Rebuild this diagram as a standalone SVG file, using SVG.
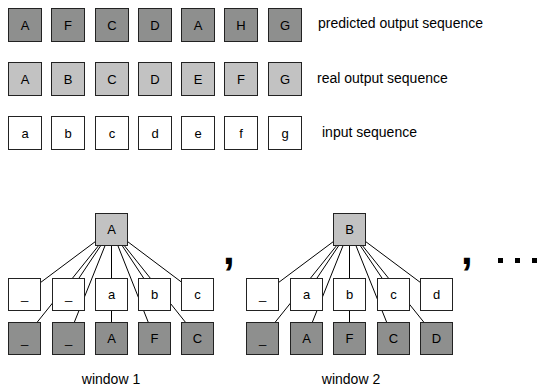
<svg xmlns="http://www.w3.org/2000/svg" width="539" height="386" viewBox="0 0 539 386">
<style>
rect.b{stroke:#222;stroke-width:1}
.pred{fill:#8e8f8e}
.real{fill:#c2c2c2}
.inp{fill:#fff}
text{font-family:"Liberation Sans",Arial,sans-serif;fill:#000}
.t{font-size:13px;text-anchor:middle}
.lab{font-size:14px}
.win{font-size:14px;text-anchor:middle}
.sep{font-size:42px;font-weight:bold}
.conn line{stroke:#000;stroke-width:1}
</style>
<rect width="539" height="386" fill="#fff"/>
<!-- row 1: predicted -->
<g id="pred-row">
<g id="p1"><rect class="b pred" x="8.5" y="8.5" width="33" height="33"/><text class="t" x="25" y="30">A</text></g>
<g id="p2"><rect class="b pred" x="51.5" y="8.5" width="33" height="33"/><text class="t" x="68" y="30">F</text></g>
<g id="p3"><rect class="b pred" x="95.5" y="8.5" width="33" height="33"/><text class="t" x="112" y="30">C</text></g>
<g id="p4"><rect class="b pred" x="138.5" y="8.5" width="33" height="33"/><text class="t" x="155" y="30">D</text></g>
<g id="p5"><rect class="b pred" x="181.5" y="8.5" width="33" height="33"/><text class="t" x="198" y="30">A</text></g>
<g id="p6"><rect class="b pred" x="224.5" y="8.5" width="33" height="33"/><text class="t" x="241" y="30">H</text></g>
<g id="p7"><rect class="b pred" x="268.5" y="8.5" width="33" height="33"/><text class="t" x="285" y="30">G</text></g>
</g>
<text id="lab-pred" class="lab" x="318" y="28">predicted output sequence</text>
<!-- row 2: real -->
<g id="real-row">
<g id="r1"><rect class="b real" x="8.5" y="62.5" width="33" height="33"/><text class="t" x="25" y="84">A</text></g>
<g id="r2"><rect class="b real" x="51.5" y="62.5" width="33" height="33"/><text class="t" x="68" y="84">B</text></g>
<g id="r3"><rect class="b real" x="95.5" y="62.5" width="33" height="33"/><text class="t" x="112" y="84">C</text></g>
<g id="r4"><rect class="b real" x="138.5" y="62.5" width="33" height="33"/><text class="t" x="155" y="84">D</text></g>
<g id="r5"><rect class="b real" x="181.5" y="62.5" width="33" height="33"/><text class="t" x="198" y="84">E</text></g>
<g id="r6"><rect class="b real" x="224.5" y="62.5" width="33" height="33"/><text class="t" x="241" y="84">F</text></g>
<g id="r7"><rect class="b real" x="268.5" y="62.5" width="33" height="33"/><text class="t" x="285" y="84">G</text></g>
</g>
<text id="lab-real" class="lab" x="317" y="83">real output sequence</text>
<!-- row 3: input -->
<g id="inp-row">
<g id="i1"><rect class="b inp" x="8.5" y="116.5" width="33" height="33"/><text class="t" x="25" y="138">a</text></g>
<g id="i2"><rect class="b inp" x="51.5" y="116.5" width="33" height="33"/><text class="t" x="68" y="138">b</text></g>
<g id="i3"><rect class="b inp" x="95.5" y="116.5" width="33" height="33"/><text class="t" x="112" y="138">c</text></g>
<g id="i4"><rect class="b inp" x="138.5" y="116.5" width="33" height="33"/><text class="t" x="155" y="138">d</text></g>
<g id="i5"><rect class="b inp" x="181.5" y="116.5" width="33" height="33"/><text class="t" x="198" y="138">e</text></g>
<g id="i6"><rect class="b inp" x="224.5" y="116.5" width="33" height="33"/><text class="t" x="241" y="138">f</text></g>
<g id="i7"><rect class="b inp" x="268.5" y="116.5" width="33" height="33"/><text class="t" x="285" y="138">g</text></g>
</g>
<text id="lab-inp" class="lab" x="322" y="137">input sequence</text>
<!-- connectors -->
<g id="connectors" class="conn">
<line x1="111.5" y1="229.5" x2="24.5" y2="294.5"/>
<line x1="111.5" y1="229.5" x2="68" y2="294.5"/>
<line x1="111.5" y1="229.5" x2="111.5" y2="294.5"/>
<line x1="111.5" y1="229.5" x2="154.5" y2="294.5"/>
<line x1="111.5" y1="229.5" x2="198" y2="294.5"/>
<line x1="111.5" y1="229.5" x2="24.5" y2="338"/>
<line x1="111.5" y1="229.5" x2="68" y2="338"/>
<line x1="111.5" y1="229.5" x2="111.5" y2="338"/>
<line x1="111.5" y1="229.5" x2="154.5" y2="338"/>
<line x1="111.5" y1="229.5" x2="198" y2="338"/>
<line x1="349.5" y1="229.5" x2="262.5" y2="294.5"/>
<line x1="349.5" y1="229.5" x2="306" y2="294.5"/>
<line x1="349.5" y1="229.5" x2="349.5" y2="294.5"/>
<line x1="349.5" y1="229.5" x2="393" y2="294.5"/>
<line x1="349.5" y1="229.5" x2="436.5" y2="294.5"/>
<line x1="349.5" y1="229.5" x2="262.5" y2="338"/>
<line x1="349.5" y1="229.5" x2="306" y2="338"/>
<line x1="349.5" y1="229.5" x2="349.5" y2="338"/>
<line x1="349.5" y1="229.5" x2="393" y2="338"/>
<line x1="349.5" y1="229.5" x2="436.5" y2="338"/>
</g>
<!-- window 1 -->
<g id="w1">
<g id="w1-top"><rect class="b real" x="95.5" y="213.5" width="32" height="32"/><text class="t" x="111.5" y="234">A</text></g>
<g id="w1-i1"><rect class="b inp" x="8.5" y="278.5" width="32" height="32"/><text class="t" x="24.5" y="299">_</text></g>
<g id="w1-i2"><rect class="b inp" x="52.5" y="278.5" width="32" height="32"/><text class="t" x="68.5" y="299">_</text></g>
<g id="w1-i3"><rect class="b inp" x="95.5" y="278.5" width="32" height="32"/><text class="t" x="111.5" y="299">a</text></g>
<g id="w1-i4"><rect class="b inp" x="138.5" y="278.5" width="32" height="32"/><text class="t" x="154.5" y="299">b</text></g>
<g id="w1-i5"><rect class="b inp" x="181.5" y="278.5" width="32" height="32"/><text class="t" x="197.5" y="299">c</text></g>
<g id="w1-o1"><rect class="b pred" x="8.5" y="322.5" width="32" height="32"/><text class="t" x="24.5" y="343">_</text></g>
<g id="w1-o2"><rect class="b pred" x="52.5" y="322.5" width="32" height="32"/><text class="t" x="68.5" y="343">_</text></g>
<g id="w1-o3"><rect class="b pred" x="95.5" y="322.5" width="32" height="32"/><text class="t" x="111.5" y="343">A</text></g>
<g id="w1-o4"><rect class="b pred" x="138.5" y="322.5" width="32" height="32"/><text class="t" x="154.5" y="343">F</text></g>
<g id="w1-o5"><rect class="b pred" x="181.5" y="322.5" width="32" height="32"/><text class="t" x="197.5" y="343">C</text></g>
<text class="win" x="111" y="384">window 1</text>
</g>
<!-- window 2 -->
<g id="w2">
<g id="w2-top"><rect class="b real" x="333.5" y="213.5" width="32" height="32"/><text class="t" x="349.5" y="234">B</text></g>
<g id="w2-i1"><rect class="b inp" x="246.5" y="278.5" width="32" height="32"/><text class="t" x="262.5" y="299">_</text></g>
<g id="w2-i2"><rect class="b inp" x="290.5" y="278.5" width="32" height="32"/><text class="t" x="306.5" y="299">a</text></g>
<g id="w2-i3"><rect class="b inp" x="333.5" y="278.5" width="32" height="32"/><text class="t" x="349.5" y="299">b</text></g>
<g id="w2-i4"><rect class="b inp" x="377.5" y="278.5" width="32" height="32"/><text class="t" x="393.5" y="299">c</text></g>
<g id="w2-i5"><rect class="b inp" x="420.5" y="278.5" width="32" height="32"/><text class="t" x="436.5" y="299">d</text></g>
<g id="w2-o1"><rect class="b pred" x="246.5" y="322.5" width="32" height="32"/><text class="t" x="262.5" y="343">_</text></g>
<g id="w2-o2"><rect class="b pred" x="290.5" y="322.5" width="32" height="32"/><text class="t" x="306.5" y="343">A</text></g>
<g id="w2-o3"><rect class="b pred" x="333.5" y="322.5" width="32" height="32"/><text class="t" x="349.5" y="343">F</text></g>
<g id="w2-o4"><rect class="b pred" x="377.5" y="322.5" width="32" height="32"/><text class="t" x="393.5" y="343">C</text></g>
<g id="w2-o5"><rect class="b pred" x="420.5" y="322.5" width="32" height="32"/><text class="t" x="436.5" y="343">D</text></g>
<text class="win" x="351" y="384">window 2</text>
</g>
<!-- separators -->
<text class="sep" x="223" y="264">,</text>
<text class="sep" x="461" y="264">,</text>
<g id="ellipsis" fill="#000">
<rect x="498" y="258" width="5" height="5"/>
<rect x="515" y="258" width="5" height="5"/>
<rect x="532" y="258" width="5" height="5"/>
</g>
</svg>
